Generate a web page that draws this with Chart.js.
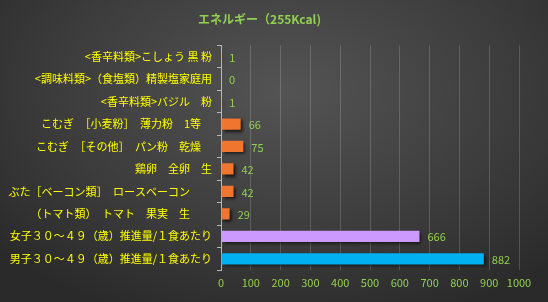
<!DOCTYPE html>
<html>
<head>
<meta charset="utf-8">
<script src="https://cdn.jsdelivr.net/npm/chart.js@4"></script>
<style>
  html, body { margin: 0; padding: 0; }
  body {
    width: 548px; height: 302px; overflow: hidden;
    background: radial-gradient(ellipse 70% 80% at 52% 30%, #545454 0%, #3c3c3c 60%, #2a2a2a 100%);
  }
  canvas { display: block; }
</style>
</head>
<body>
<canvas id="energyBar" width="548" height="302"></canvas>
<script>
// Food items and reference intakes (top to bottom)
const categories = [
  "<香辛料類>こしょう 黒 粉",
  "<調味料類>（食塩類）精製塩家庭用",
  "<香辛料類>バジル　粉",
  "こむぎ　［小麦粉］　薄力粉　1等　",
  "こむぎ　［その他］　パン粉　乾燥　",
  "鶏卵　全卵　生",
  "ぶた［ベーコン類］　ロースベーコン　　",
  "（トマト類）　トマト　果実　生　　",
  "女子３０～４９（歳）推進量/１食あたり",
  "男子３０～４９（歳）推進量/１食あたり"
];
const energy = [1, 0, 1, 66, 75, 42, 42, 29, 666, 882];
const barColors = [
  "#F0752F", "#F0752F", "#F0752F", "#F0752F", "#F0752F",
  "#F0752F", "#F0752F", "#F0752F", "#CC99FF", "#00B0F0"
];
const xTicks = { min: 0, max: 1000, step: 100 };

const FONT = "'Noto Sans CJK JP', 'Noto Sans', sans-serif";
const GREEN = "#92D050";

/* soft shadow under the bars, then value labels at bar ends */
const barExtras = {
  id: "barExtras",
  beforeDatasetsDraw(chart) {
    const ctx = chart.ctx;
    ctx.save();
    ctx.shadowColor = "rgba(0,0,0,0.7)";
    ctx.shadowBlur = 3;
    ctx.shadowOffsetX = 2;
    ctx.shadowOffsetY = 2;
  },
  afterDatasetsDraw(chart) {
    const ctx = chart.ctx;
    ctx.restore();
    ctx.save();
    ctx.font = "11px " + FONT;
    ctx.fillStyle = GREEN;
    ctx.textAlign = "left";
    ctx.textBaseline = "middle";
    chart.getDatasetMeta(0).data.forEach((bar, i) => {
      ctx.fillText(String(energy[i]), bar.x + 8, bar.y + 1);
    });
    ctx.restore();
  }
};

new Chart(document.getElementById("energyBar"), {
  type: "bar",
  data: {
    labels: categories,
    datasets: [
      {
        data: energy,
        backgroundColor: barColors,
        borderWidth: 0,
        barPercentage: 0.5,
        categoryPercentage: 1
      }
    ]
  },
  options: {
    indexAxis: "y",
    responsive: false,
    animation: false,
    devicePixelRatio: 1,
    layout: { padding: { left: 0, right: 29, top: 0, bottom: 0 } },
    plugins: {
      legend: { display: false },
      tooltip: { enabled: false },
      title: {
        display: true,
        text: "エネルギー（255Kcal)",
        color: GREEN,
        font: { family: FONT, size: 12, weight: "bold" },
        padding: { top: 12, bottom: 19 }
      }
    },
    scales: {
      x: {
        min: xTicks.min,
        max: xTicks.max,
        ticks: {
          stepSize: xTicks.step,
          color: GREEN,
          font: { family: FONT, size: 11 },
          padding: 6,
          maxRotation: 0,
          autoSkip: false,
          callback: v => String(v)
        },
        grid: {
          color: ctx => (ctx.index === 0 ? "rgba(0,0,0,0)" : "rgba(255,255,255,0.17)"),
          drawTicks: false
        },
        border: { display: false },
        afterFit: s => { s.height = 32; }
      },
      y: {
        ticks: {
          color: "#FFFF00",
          font: { family: FONT, size: 11 },
          padding: 5,
          autoSkip: false
        },
        grid: {
          offset: true,
          drawOnChartArea: false,
          tickLength: 4,
          color: "#B8B8B8"
        },
        border: { color: "#B8B8B8" },
        afterFit: s => { s.width = 221; }
      }
    }
  },
  plugins: [barExtras]
});
</script>
</body>
</html>
